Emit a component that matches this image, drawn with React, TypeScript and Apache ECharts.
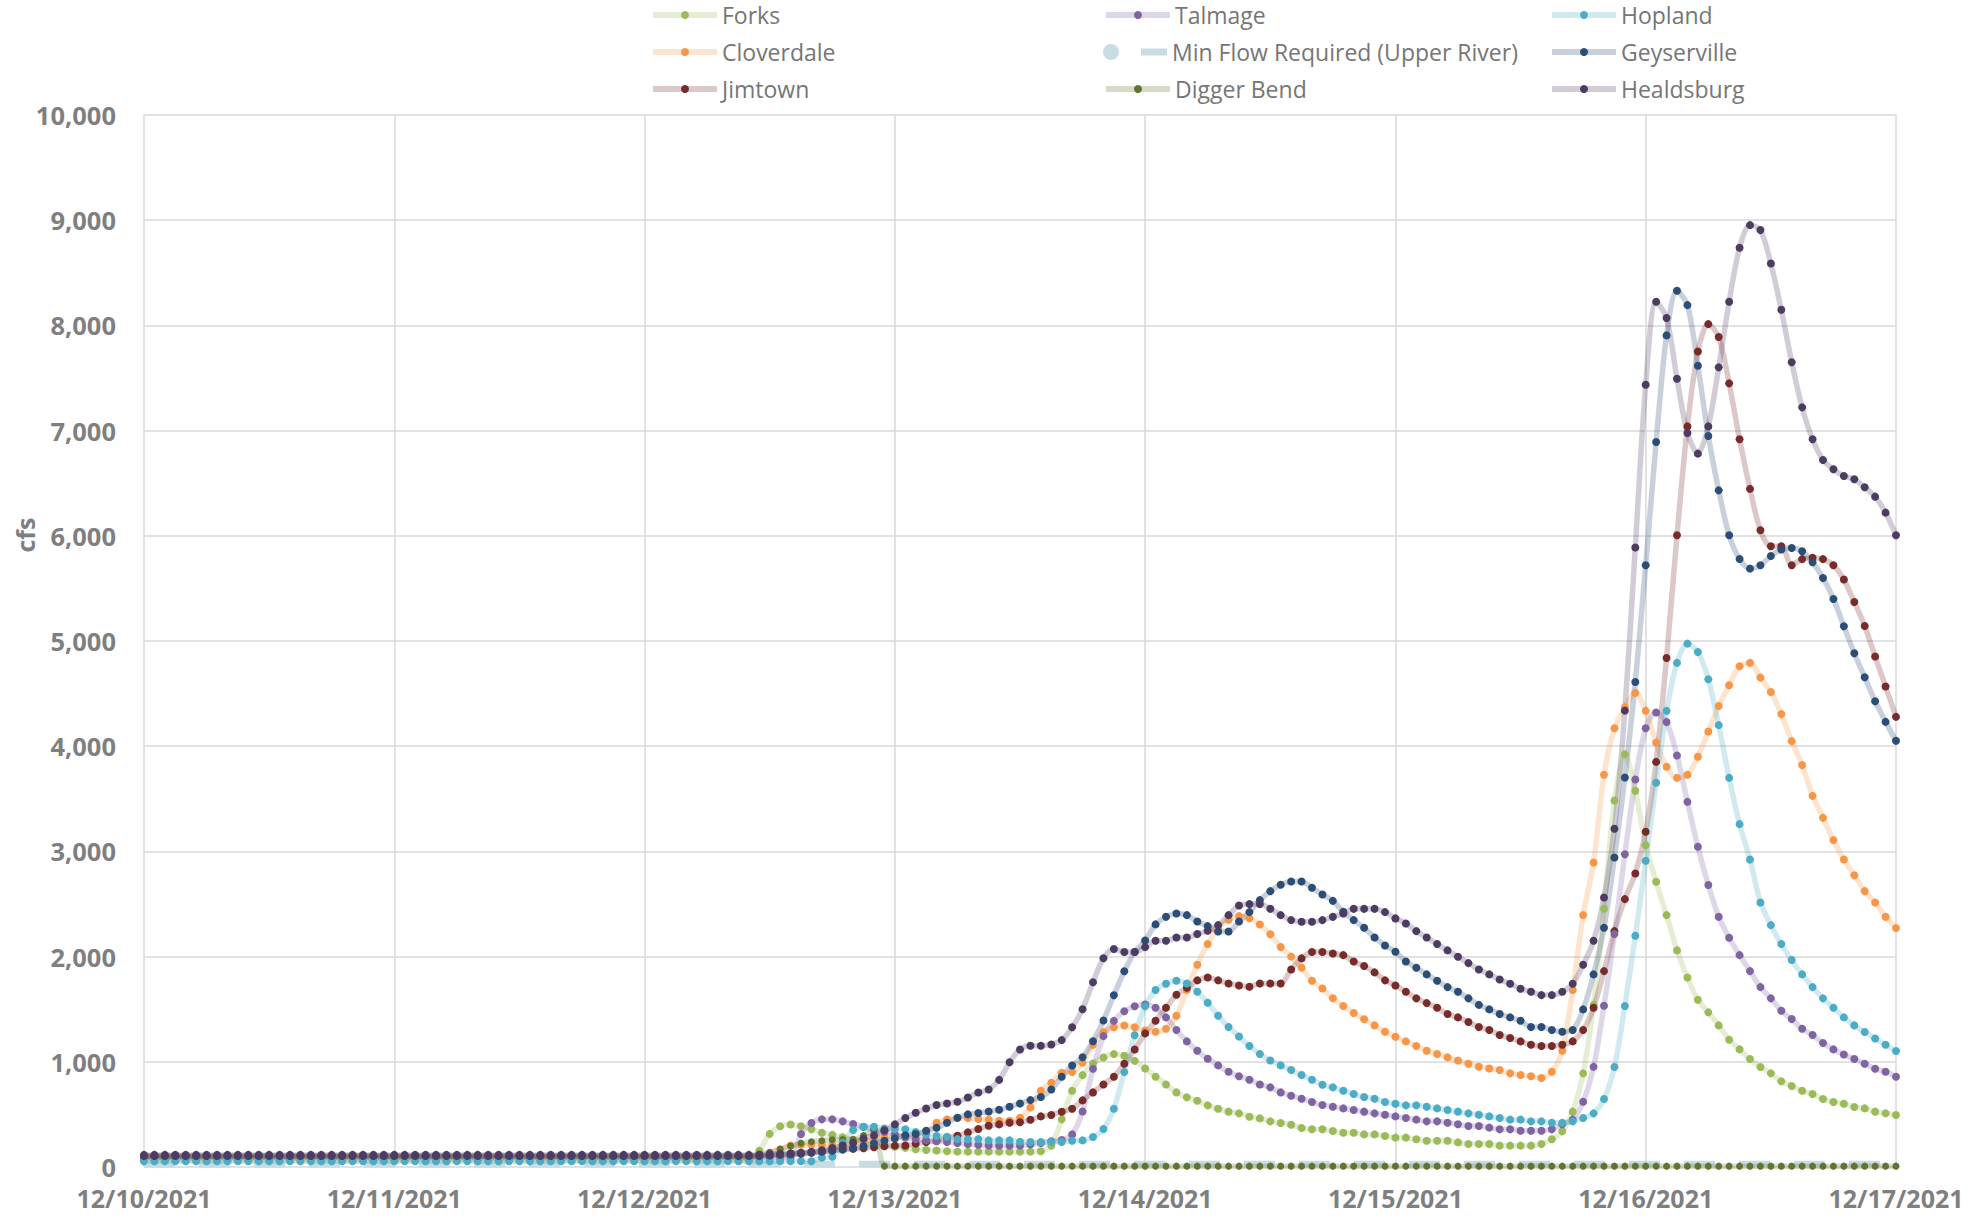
import React, { useEffect, useRef } from "react";
import * as echarts from "echarts";

// X axis tick labels (one per day, data are hourly: hour 0 = 12/10/2021 00:00)
const dayLabels = [
  "12/10/2021", "12/11/2021", "12/12/2021", "12/13/2021",
  "12/14/2021", "12/15/2021", "12/16/2021", "12/17/2021",
];

// Hourly flows (cfs), hour 0 .. 168
const forks = [
  65,65,65,65,65,65,65,65,65,65,65,65,65,65,65,65,65,65,65,65,65,65,65,65,
  65,65,65,65,65,65,65,65,65,65,65,65,65,65,65,65,65,65,65,65,65,65,65,65,
  65,65,65,65,65,65,65,65,65,65,65,155,315,388,404,388,358,326,305,282,260,242,224,207,
  193,182,168,161,157,150,146,146,146,146,146,146,146,146,150,203,453,725,873,984,1041,1073,1057,1009,
  937,858,785,709,662,630,586,554,526,510,478,462,434,418,402,371,358,358,342,326,326,310,310,295,
  279,279,263,250,250,250,234,219,219,219,203,203,203,203,219,263,339,526,890,1541,2455,3484,3924,3576,
  3059,2711,2394,2059,1802,1590,1470,1346,1210,1118,1026,950,890,814,770,725,694,646,618,602,570,557,526,510,
  494,
];

const cloverdale = [
  80,80,80,80,80,80,80,80,80,80,80,80,80,80,80,80,80,80,80,80,80,80,80,80,
  80,80,80,80,80,80,80,80,80,80,80,80,80,80,80,80,80,80,80,80,80,80,80,80,
  80,80,80,80,80,80,80,80,80,80,80,100,130,165,205,210,210,210,210,215,228,245,265,285,
  304,290,294,326,421,453,465,465,456,449,440,440,468,566,725,801,896,902,991,1161,1282,1329,1345,1329,
  1297,1286,1314,1437,1682,1922,2120,2270,2350,2385,2365,2305,2212,2092,2000,1895,1770,1697,1604,1530,1464,1405,1346,1286,
  1238,1194,1150,1105,1074,1042,1013,982,953,937,922,890,874,862,846,906,1105,1682,2394,2895,3728,4170,4370,4507,
  4336,4034,3804,3699,3728,3899,4140,4382,4580,4760,4792,4652,4516,4305,4048,3820,3528,3319,3107,2923,2774,2622,2515,2378,
  2271,
];

const jimtown = [
  100,100,100,100,100,100,100,100,100,100,100,100,100,100,100,100,100,100,100,100,100,100,100,100,
  100,100,100,100,100,100,100,100,100,100,100,100,100,100,100,100,100,100,100,100,100,100,100,100,
  100,100,100,100,100,100,100,100,100,100,100,105,110,115,122,130,138,146,158,168,172,178,187,198,
  203,205,222,237,250,278,297,329,361,392,405,421,425,449,481,494,525,554,633,709,785,858,981,1117,
  1270,1390,1514,1637,1704,1774,1802,1774,1745,1726,1713,1745,1745,1745,1878,1983,2043,2043,2030,2014,1954,1910,1850,1774,
  1726,1666,1603,1558,1514,1454,1422,1378,1330,1302,1254,1226,1194,1162,1150,1150,1162,1194,1302,1514,1862,2242,2546,2790,
  3186,3851,4839,6005,7040,7752,8012,7889,7449,6918,6446,6052,5900,5900,5720,5778,5792,5778,5720,5584,5371,5143,4852,4567,
  4279,
];

const talmage = [
  90,90,90,90,90,90,90,90,90,90,90,90,90,90,90,90,90,90,90,90,90,90,90,90,
  90,90,90,90,90,90,90,90,90,90,90,90,90,90,90,90,90,90,90,90,90,90,90,90,
  90,90,90,90,90,90,90,90,90,90,90,90,90,90,90,313,418,453,453,434,408,383,351,335,
  310,280,265,255,245,238,228,218,210,205,203,203,203,215,228,244,256,310,528,934,1244,1389,1481,1528,
  1545,1514,1422,1302,1194,1105,1029,966,906,862,830,785,757,709,678,649,618,589,573,557,542,526,510,497,
  481,466,450,434,434,421,406,390,390,374,358,358,345,345,345,358,406,450,620,952,1533,2214,2972,3683,
  4170,4320,4230,3911,3471,3044,2680,2378,2179,2014,1862,1710,1603,1485,1406,1314,1254,1178,1118,1070,1026,982,934,906,
  858,
];

// Minimum flow requirement: constant level from first to last hour
const minFlowHours = [0, 168];
const minFlowValues = [25, 25];

const diggerBend = [
  100,100,100,100,100,100,100,100,100,100,100,100,100,100,100,100,100,100,100,100,100,100,100,100,
  100,100,100,100,100,100,100,100,100,100,100,100,100,100,100,100,100,100,100,100,100,100,100,100,
  100,100,100,100,100,100,100,100,100,100,100,115,140,170,200,225,240,250,258,262,262,300,355,8,
  8,8,8,8,8,8,8,8,8,8,8,8,8,8,8,8,8,8,8,8,8,8,8,8,
  8,8,8,8,8,8,8,8,8,8,8,8,8,8,8,8,8,8,8,8,8,8,8,8,
  8,8,8,8,8,8,8,8,8,8,8,8,8,8,8,8,8,8,8,8,8,8,8,8,
  8,8,8,8,8,8,8,8,8,8,8,8,8,8,8,8,8,8,8,8,8,8,8,8,
  8,
];

const hopland = [
  55,55,55,55,55,55,55,55,55,55,55,55,55,55,55,55,55,55,55,55,55,55,55,55,
  55,55,55,55,55,55,55,55,55,55,55,55,55,55,55,55,55,55,55,55,55,55,55,55,
  55,55,55,55,55,55,55,55,55,55,55,55,55,55,55,55,55,89,98,230,351,380,383,366,
  362,358,332,310,294,288,265,263,265,253,253,253,240,237,237,237,237,250,253,285,361,554,902,1253,
  1528,1682,1742,1770,1745,1666,1561,1438,1330,1241,1150,1074,1013,966,922,874,830,782,757,725,694,665,649,618,
  602,586,586,573,557,542,526,510,497,481,466,450,450,434,434,421,421,434,466,510,646,950,1530,2198,
  2911,3652,4336,4792,4975,4896,4637,4200,3699,3259,2923,2515,2299,2119,1967,1831,1710,1603,1514,1422,1346,1283,1222,1162,
  1102,
];

const geyserville = [
  105,105,105,105,105,105,105,105,105,105,105,105,105,105,105,105,105,105,105,105,105,105,105,105,
  105,105,105,105,105,105,105,105,105,105,105,105,105,105,105,105,105,105,105,105,105,105,105,105,
  105,105,105,105,105,105,105,105,105,105,105,105,110,115,120,125,135,145,155,165,180,200,225,250,
  272,301,313,345,373,421,468,500,513,528,544,573,604,636,665,737,858,965,1044,1196,1392,1633,1861,2044,
  2153,2306,2378,2410,2394,2334,2290,2239,2239,2334,2423,2537,2622,2683,2714,2714,2654,2591,2530,2426,2347,2274,2182,2106,
  2046,1954,1894,1831,1770,1710,1666,1603,1541,1498,1454,1422,1390,1330,1330,1302,1286,1302,1498,1831,2274,2942,3702,4611,
  5720,6891,7905,8329,8193,7617,6948,6432,6005,5780,5688,5720,5808,5869,5884,5853,5748,5599,5400,5140,4884,4656,4428,4231,
  4051,
];

const healdsburg = [
  115,115,115,115,115,115,115,115,115,115,115,115,115,115,115,115,115,115,115,115,115,115,115,115,
  115,115,115,115,115,115,115,115,115,115,115,115,115,115,115,115,115,115,115,115,115,115,115,115,
  115,115,115,115,115,115,115,115,115,115,115,118,122,126,130,135,145,160,180,205,230,270,300,350,
  405,465,515,556,589,604,620,661,708,737,828,995,1117,1152,1152,1165,1206,1329,1500,1756,1984,2073,2044,2044,
  2090,2150,2150,2182,2182,2214,2245,2299,2394,2486,2499,2499,2454,2394,2347,2331,2331,2347,2378,2410,2454,2454,2454,2423,
  2363,2315,2242,2182,2119,2059,1998,1938,1878,1831,1783,1742,1694,1666,1634,1634,1666,1742,1922,2150,2562,3215,4338,5889,
  7436,8225,8070,7493,6977,6781,7040,7601,8225,8738,8953,8906,8589,8149,7649,7221,6917,6721,6632,6569,6537,6461,6372,6220,
  6005,
];

const FONT = "'Open Sans', 'Liberation Sans', sans-serif";
const GRAY = "#7f7f7f";

type Def = { name: string; values: number[]; color: string; size: number };

const stationDefs: Def[] = [
  { name: "Forks", values: forks, color: "#9bbb59", size: 8 },
  { name: "Cloverdale", values: cloverdale, color: "#f79646", size: 8 },
  { name: "Jimtown", values: jimtown, color: "#772c2a", size: 8 },
  { name: "Talmage", values: talmage, color: "#8064a2", size: 8 },
  { name: "Digger Bend", values: diggerBend, color: "#5f7530", size: 7 },
  { name: "Hopland", values: hopland, color: "#4bacc6", size: 8 },
  { name: "Geyserville", values: geyserville, color: "#2c4d75", size: 8 },
  { name: "Healdsburg", values: healdsburg, color: "#4d3b62", size: 8 },
];

const MIN_FLOW = "Min Flow Required (Upper River)";
const MIN_COLOR = "#cadce3";

// legend layout: 3 columns x 3 rows
const legendCols = [650, 1103, 1549];
const legendRows = [15, 52, 89];
const legendGrid = [
  ["Forks", "Talmage", "Hopland"],
  ["Cloverdale", MIN_FLOW, "Geyserville"],
  ["Jimtown", "Digger Bend", "Healdsburg"],
];

export default function App() {
  const ref = useRef<HTMLDivElement>(null);

  useEffect(() => {
    if (!ref.current) return;
    const chart = echarts.init(ref.current, undefined, { renderer: "svg" });

    const lineSeries: any[] = stationDefs.map((d) => ({
      type: "line",
      name: d.name,
      data: d.values.map((v, i) => [i, v]),
      smooth: 0.3,
      symbol: "circle",
      symbolSize: d.size,
      showSymbol: true,
      itemStyle: { color: d.color },
      lineStyle: { color: d.color, width: 5.5, opacity: 0.26 },
      emphasis: { disabled: true },
      z: 2,
    }));

    const minSeries = {
      type: "line",
      name: MIN_FLOW,
      data: minFlowHours.map((h, i) => [h, minFlowValues[i]]),
      symbol: "none",
      itemStyle: { color: MIN_COLOR },
      lineStyle: { color: MIN_COLOR, width: 7, type: [31, 24] },
      emphasis: { disabled: true },
      z: 2,
    };

    // order: Forks, Cloverdale, Jimtown, Talmage, MinFlow, Digger, Hopland, Geyserville, Healdsburg
    const series = [
      ...lineSeries.slice(0, 4),
      minSeries,
      ...lineSeries.slice(4),
    ];

    const legends: any[] = [];
    legendGrid.forEach((row, r) => {
      row.forEach((name, c) => {
        const item: any = { name };
        const isMin = name === MIN_FLOW;
        if (isMin) {
          item.icon =
            "path://M0,8A8,8,0,1,1,16,8A8,8,0,1,1,0,8ZM38,4.5L64,4.5L64,11.5L38,11.5Z";
        }
        legends.push({
          data: [item],
          left: legendCols[c],
          top: legendRows[r] - 12,
          padding: 0,
          itemGap: 0,
          itemWidth: 64,
          itemHeight: isMin ? 16 : 10,
          symbolKeepAspect: false,
          selectedMode: false,
          lineStyle: { width: 6 },
          textStyle: {
            fontFamily: FONT,
            fontSize: 23,
            color: "#767676",
            lineHeight: 24,
          },
        });
      });
    });

    chart.setOption({
      animation: false,
      textStyle: { fontFamily: FONT },
      grid: { left: 144, right: 90, top: 115, bottom: 58, containLabel: false },
      legend: legends,
      xAxis: {
        type: "value",
        min: 0,
        max: 168,
        interval: 24,
        axisLine: { show: false },
        axisTick: { show: false },
        splitLine: { show: true, lineStyle: { color: "#d9d9d9", width: 1.5 } },
        axisLabel: {
          margin: 18,
          fontFamily: FONT,
          fontSize: 25,
          fontWeight: "bold",
          color: GRAY,
          formatter: (v: number) => dayLabels[Math.round(v / 24)] ?? "",
        },
      },
      yAxis: {
        type: "value",
        min: 0,
        max: 10000,
        interval: 1000,
        axisLine: { show: false },
        axisTick: { show: false },
        splitLine: { show: true, lineStyle: { color: "#d9d9d9", width: 1.5 } },
        axisLabel: {
          margin: 28,
          fontFamily: FONT,
          fontSize: 25.5,
          fontWeight: "bold",
          color: GRAY,
          formatter: (v: number) => v.toLocaleString("en-US"),
        },
      },
      graphic: [
        {
          type: "text",
          x: 25,
          y: 535,
          rotation: Math.PI / 2,
          style: {
            text: "cfs",
            fontFamily: FONT,
            fontSize: 25,
            fontWeight: "bold",
            fill: GRAY,
            textAlign: "center",
            textVerticalAlign: "middle",
          },
        },
      ],
      series,
    });

    return () => chart.dispose();
  }, []);

  return (
    <div
      ref={ref}
      style={{ position: "absolute", left: 0, top: 0, width: 1986, height: 1225, background: "#fff" }}
    />
  );
}
